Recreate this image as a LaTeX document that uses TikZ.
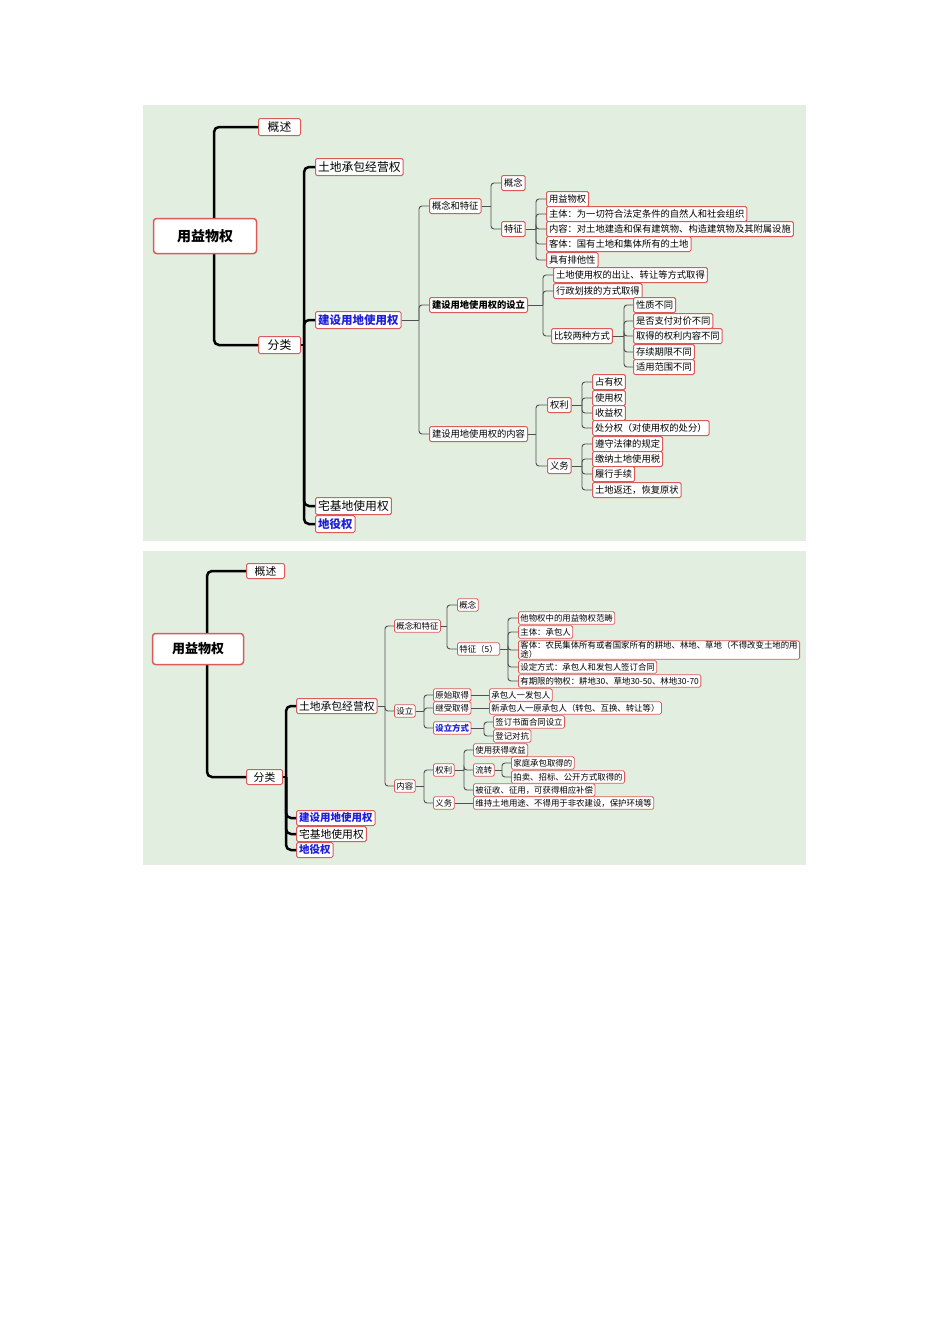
\documentclass[tikz,border=0pt]{standalone}
\usepackage{fontspec}
\setmainfont{Noto Sans CJK SC}
\definecolor{bg}{RGB}{226,239,224}
\definecolor{bd}{RGB}{220,90,90}
\definecolor{bl}{RGB}{30,30,220}
\definecolor{ln}{RGB}{80,80,80}
\tikzset{
 n/.style={draw=bd,fill=white,line width=1pt,rounded corners=1.5pt,anchor=west,inner xsep=2.5pt,inner ysep=0pt,minimum height=15pt,font=\fontsize{9.3}{9.5}\selectfont},
 s/.style={n,font=\fontsize{8.4}{8.6}\selectfont,inner xsep=2pt,minimum height=12.5pt,line width=0.8pt},
 big/.style={font=\fontsize{11.8}{12}\selectfont,minimum height=17pt},
 sbig/.style={font=\fontsize{10.8}{11}\selectfont,minimum height=15pt},
 rt/.style={n,anchor=center,font=\fontsize{14}{15}\selectfont\bfseries,line width=1.5pt,rounded corners=3pt},
 b/.style={text=bl,font=\bfseries\fontsize{11.5}{12}\selectfont,minimum height=17pt},
 c/.style={draw=ln,line width=0.9pt,rounded corners=3pt},
 k/.style={draw=black,line width=2.5pt,rounded corners=5pt},
}
\newcommand\br[3]{\path (#3,0) coordinate (tb); \draw[c] (#1.east) -- (tb |- #1.east); \draw[c] (tb |- #1.east) |- (#2.west);}
\newcommand\bk[3]{\path (#3,0) coordinate (tb); \draw[k] (#1.east) -- (tb |- #1.east); \draw[k] (tb |- #1.east) |- (#2.west);}
\begin{document}
\begin{tikzpicture}[x=1pt,y=-1pt]
\useasboundingbox (0,0) rectangle (950,1344);
\fill[bg] (143,105) rectangle (806,541);
\fill[bg] (143,551) rectangle (806,865);
% ===== top panel =====
\coordinate (rb1) at (214,236);
\node[n,big,minimum width=42pt] (g1) at (258,127) {概述};
\node[n,big,minimum width=42pt] (f1) at (258,345) {分类};
\draw[k] (g1.west) -| (rb1);
\draw[k] (f1.west) -| (rb1);
\node[rt,minimum width=103pt,minimum height=35pt] (r1) at (205,236) {用益物权};
\node[n,big] (a1) at (315,167) {土地承包经营权};
\node[n,b] (a2) at (315,320) {建设用地使用权};
\node[n,big] (a3) at (315,506) {宅基地使用权};
\node[n,b] (a4) at (315,524) {地役权};
\foreach \t in {a1,a2,a3,a4}{\bk{f1}{\t}{304}}
\node[n] (b1) at (429,206) {概念和特征};
\node[n,font=\bfseries\fontsize{9.3}{9.5}\selectfont] (b2) at (429,305) {建设用地使用权的设立};
\node[n] (b3) at (429,434) {建设用地使用权的内容};
\foreach \t in {b1,b2,b3}{\br{a2}{\t}{419}}
\node[n] (c1) at (501,183) {概念};
\node[n] (c2) at (501,229) {特征};
\br{b1}{c1}{491}\br{b1}{c2}{491}
\node[n] (d1) at (546,199) {用益物权};
\node[n] (d2) at (546,214) {主体：为一切符合法定条件的自然人和社会组织};
\node[n] (d3) at (546,229) {内容：对土地建造和保有建筑物、构造建筑物及其附属设施};
\node[n] (d4) at (546,244) {客体：国有土地和集体所有的土地};
\node[n] (d5) at (546,260) {具有排他性};
\foreach \t in {d1,d2,d3,d4,d5}{\br{c2}{\t}{536}}
\node[n] (e1) at (553,275) {土地使用权的出让、转让等方式取得};
\node[n] (e2) at (553,291) {行政划拨的方式取得};
\node[n] (e3) at (551,336) {比较两种方式};
\foreach \t in {e1,e2,e3}{\br{b2}{\t}{543}}
\node[n] (f11) at (633,305) {性质不同};
\node[n] (f12) at (633,321) {是否支付对价不同};
\node[n] (f13) at (633,336) {取得的权利内容不同};
\node[n] (f14) at (633,352) {存续期限不同};
\node[n] (f15) at (633,367) {适用范围不同};
\foreach \t in {f11,f12,f13,f14,f15}{\br{e3}{\t}{624}}
\node[n] (h1) at (547,405) {权利};
\node[n] (h2) at (547,466) {义务};
\br{b3}{h1}{536}\br{b3}{h2}{536}
\node[n] (i1) at (592,382) {占有权};
\node[n] (i2) at (592,398) {使用权};
\node[n] (i3) at (592,413) {收益权};
\node[n] (i4) at (592,428) {处分权（对使用权的处分）};
\foreach \t in {i1,i2,i3,i4}{\br{h1}{\t}{582}}
\node[n] (j1) at (592,444) {遵守法律的规定};
\node[n] (j2) at (592,459) {缴纳土地使用税};
\node[n] (j3) at (592,474) {履行手续};
\node[n] (j4) at (592,490) {土地返还，恢复原状};
\foreach \t in {j1,j2,j3,j4}{\br{h2}{\t}{582}}
% ===== bottom panel =====
\coordinate (rb2) at (207,649);
\node[n,sbig,minimum width=38pt] (G1) at (246,571) {概述};
\node[n,sbig,minimum width=36pt] (F1) at (246,777) {分类};
\draw[k] (G1.west) -| (rb2);
\draw[k] (F1.west) -| (rb2);
\node[rt,minimum width=91pt,minimum height=31pt,font=\fontsize{13}{14}\selectfont\bfseries] (R2) at (198,649) {用益物权};
\node[n,sbig] (A1) at (296,706) {土地承包经营权};
\node[n,sbig,text=bl,font=\bfseries\fontsize{10.5}{11}\selectfont] (A2) at (296,818) {建设用地使用权};
\node[n,sbig] (A3) at (296,834) {宅基地使用权};
\node[n,sbig,text=bl,font=\bfseries\fontsize{10.5}{11}\selectfont] (A4) at (296,850) {地役权};
\foreach \t in {A1,A2,A3,A4}{\bk{F1}{\t}{286}}
\node[s] (B1) at (394,626) {概念和特征};
\node[s] (B2) at (394,711) {设立};
\node[s] (B3) at (394,786) {内容};
\foreach \t in {B1,B2,B3}{\br{A1}{\t}{385}}
\node[s] (C1) at (457,605) {概念};
\node[s] (C2) at (457,649) {特征（5）};
\br{B1}{C1}{447}\br{B1}{C2}{447}
\node[s] (D1) at (518,618) {他物权中的用益物权范畴};
\node[s] (D2) at (518,632) {主体：承包人};
\node[s,align=left,inner ysep=0.8pt,font=\fontsize{8.4}{8.8}\selectfont] (D3) at (518,650) {客体：农民集体所有或者国家所有的耕地、林地、草地（不得改变土地的用\\途）};
\node[s] (D4) at (518,667) {设定方式：承包人和发包人签订合同};
\node[s] (D5) at (518,681) {有期限的物权：耕地30、草地30-50、林地30-70};
\foreach \t in {D1,D2,D3,D4,D5}{\br{C2}{\t}{508}}
\node[s] (E1) at (433,695) {原始取得};
\node[s] (E2) at (433,708) {继受取得};
\node[s,text=bl,font=\bfseries\fontsize{8.4}{8.6}\selectfont] (E3) at (433,728) {设立方式};
\foreach \t in {E1,E2,E3}{\br{B2}{\t}{424}}
\node[s] (E11) at (489,695) {承包人一发包人};
\draw[c] (E1.east) -- (E11.west);
\node[s] (E21) at (489,708) {新承包人一原承包人（转包、互换、转让等）};
\draw[c] (E2.east) -- (E21.west);
\node[s] (E31) at (493,722) {签订书面合同设立};
\node[s] (E32) at (493,736) {登记对抗};
\br{E3}{E31}{484}\br{E3}{E32}{484}
\node[s] (H1) at (433,770) {权利};
\node[s] (H2) at (433,803) {义务};
\br{B3}{H1}{424}\br{B3}{H2}{424}
\node[s] (I1) at (473,750) {使用获得收益};
\node[s] (I2) at (473,770) {流转};
\node[s] (I3) at (473,790) {被征收、征用，可获得相应补偿};
\foreach \t in {I1,I2,I3}{\br{H1}{\t}{464}}
\node[s] (K1) at (511,763) {家庭承包取得的};
\node[s] (K2) at (511,777) {拍卖、招标、公开方式取得的};
\br{I2}{K1}{502}\br{I2}{K2}{502}
\node[s] (J1) at (473,803) {维持土地用途、不得用于非农建设，保护环境等};
\draw[c] (H2.east) -- (J1.west);
\end{tikzpicture}
\end{document}
